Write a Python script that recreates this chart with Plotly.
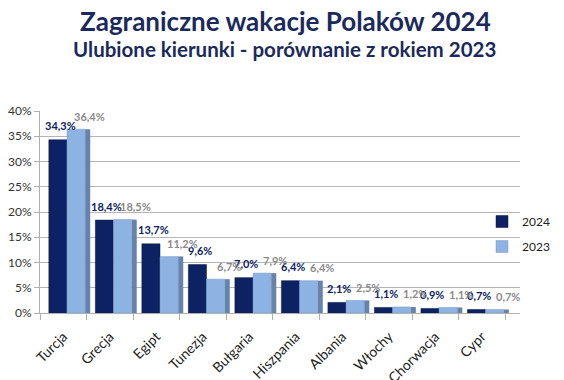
import plotly.graph_objects as go

categories = ["Turcja", "Grecja", "Egipt", "Tunezja", "Bułgaria", "Hiszpania",
              "Albania", "Włochy", "Chorwacja", "Cypr"]
values_2024 = [34.3, 18.4, 13.7, 9.6, 7.0, 6.4, 2.1, 1.1, 0.9, 0.7]
values_2023 = [36.4, 18.5, 11.2, 6.7, 7.9, 6.4, 2.5, 1.2, 1.1, 0.7]
series_names = ["2024", "2023"]
y_ticks = [0, 5, 10, 15, 20, 25, 30, 35, 40]

def fmt(v):
    return f"{v:.1f}".replace(".", ",") + "%"

NAVY = "#0c2262"
LIGHT = "#8db3e2"
SIDE = "#6783ab"
TITLE = "#1b2a5c"
FONT = "Lato"

W, H = 564, 380
def fx(p):
    return p / W
def fy(p):
    return 1 - p / H

BW = 0.39     # bar width in category units
SHIFT = 0.08  # group shift (depth effect)

fig = go.Figure()
# side faces of the light bars (3D look)
fig.add_trace(go.Bar(
    x=categories, y=values_2023, width=0.11, offset=SHIFT + BW,
    marker=dict(color=SIDE, line=dict(width=0)), showlegend=False,
    hoverinfo="skip",
))
fig.add_trace(go.Bar(
    x=categories, y=values_2024, name=series_names[0], legendgroup="a",
    width=BW, offset=SHIFT - BW,
    marker=dict(color=NAVY, line=dict(color="#0a1a4a", width=0.5)),
))
fig.add_trace(go.Bar(
    x=categories, y=values_2023, name=series_names[1], legendgroup="b",
    width=BW, offset=SHIFT,
    marker=dict(color=LIGHT, line=dict(color="#7a9cc8", width=0.5)),
))

annotations = []
for c, v in zip(categories, values_2024):
    annotations.append(dict(
        x=c, y=v, xref="x", yref="y", text=f"<b>{fmt(v)}</b>", showarrow=False,
        xshift=-3, yshift=14, xanchor="center", yanchor="middle",
        font=dict(size=11, color=NAVY, family=FONT)))
for c, v in zip(categories, values_2023):
    annotations.append(dict(
        x=c, y=v, xref="x", yref="y", text=f"<b>{fmt(v)}</b>", showarrow=False,
        xshift=26, yshift=13, xanchor="center", yanchor="middle",
        font=dict(size=11, color="#8a8a8a", family=FONT)))

annotations.append(dict(
    text="<b>Zagraniczne wakacje Polaków 2024</b>", x=fx(285), y=fy(21),
    xref="paper", yref="paper", showarrow=False, xanchor="center", yanchor="middle",
    font=dict(size=26, color=TITLE, family=FONT)))
annotations.append(dict(
    text="<b>Ulubione kierunki - porównanie z rokiem 2023</b>", x=fx(284), y=fy(49),
    xref="paper", yref="paper", showarrow=False, xanchor="center", yanchor="middle",
    font=dict(size=20.5, color=TITLE, family=FONT)))

fig.update_layout(
    width=W, height=H,
    margin=dict(l=0, r=0, t=0, b=0),
    paper_bgcolor="white", plot_bgcolor="white",
    barmode="overlay",
    font=dict(family=FONT, color="#333333"),
    showlegend=True,
    legend=dict(x=fx(482), y=fy(207), xanchor="left", yanchor="top",
                font=dict(size=12, color="#222222", family=FONT),
                tracegroupgap=6, bgcolor="rgba(0,0,0,0)"),
    annotations=annotations,
)

fig.update_xaxes(domain=[fx(40), fx(520)], range=[-0.5, 9.82],
                 type="category", tickson="boundaries",
                 showline=True, linecolor="#b0b0b0", linewidth=1,
                 ticks="outside", tickcolor="#b0b0b0", ticklen=6,
                 tickangle=-45, showgrid=False,
                 ticklabelstandoff=9, ticklabelshift=0,
                 tickfont=dict(size=14, color="#222222", family=FONT),
                 automargin=False)
fig.update_yaxes(domain=[fy(313), fy(111)], range=[0, 40], tickvals=y_ticks,
                 ticktext=[f"{v}%" for v in y_ticks],
                 showgrid=True, gridcolor="#b5b5b5", gridwidth=1,
                 showline=True, linecolor="#b0b0b0", ticks="outside",
                 ticklen=5, tickcolor="#b0b0b0", automargin=False,
                 tickfont=dict(size=12, color="#333333", family=FONT),
                 zeroline=False)

fig.write_html("out.html", config={"displayModeBar": False},
               post_script="document.body.style.margin='0';")
